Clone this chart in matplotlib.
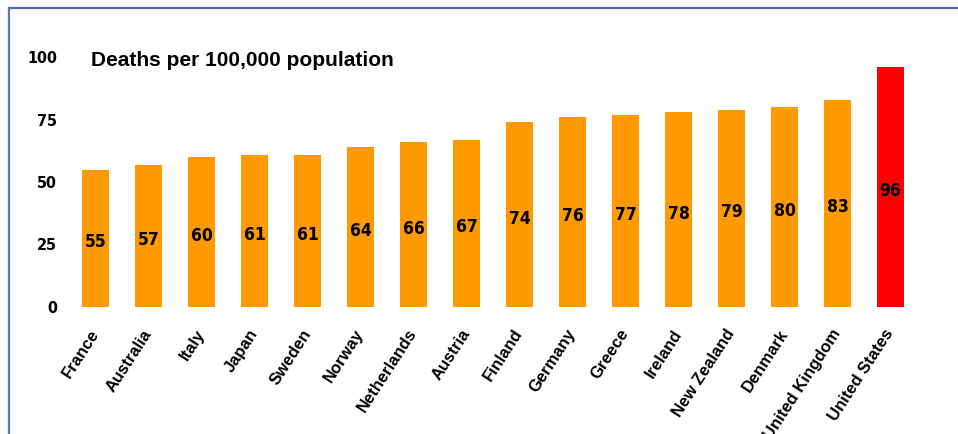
import matplotlib
matplotlib.use("Agg")
import matplotlib.pyplot as plt
from matplotlib.lines import Line2D

countries = ["France", "Australia", "Italy", "Japan", "Sweden", "Norway",
             "Netherlands", "Austria", "Finland", "Germany", "Greece",
             "Ireland", "New Zealand", "Denmark", "United Kingdom",
             "United States"]
deaths = [55, 57, 60, 61, 61, 64, 66, 67, 74, 76, 77, 78, 79, 80, 83, 96]
yticks = [0, 25, 50, 75, 100]
title = "Deaths per 100,000 population"

regular = ["Liberation Sans", "DejaVu Sans"]
narrow_props = dict(family=["DejaVu Sans"], stretch="condensed",
                    weight="bold")

W, H = 958, 434
fig = plt.figure(figsize=(W / 100, H / 100), dpi=100)

# plot area in pixel terms
left_px, right_px, top_px, bottom_px = 69, 917, 57, 307
ax = fig.add_axes([left_px / W, 1 - bottom_px / H,
                   (right_px - left_px) / W, (bottom_px - top_px) / H])

colors = ["#FF9900"] * (len(deaths) - 1) + ["#FF0000"]
x = list(range(len(countries)))
ax.bar(x, deaths, width=0.51, color=colors, zorder=2)

# value labels sit at mid-height of each bar
for xi, v in zip(x, deaths):
    ax.annotate(str(v), xy=(xi, v / 2), xytext=(0, -3),
                textcoords="offset points", ha="center", va="center",
                fontsize=12.5, color="black", **narrow_props)

ax.set_xlim(-0.5, len(countries) - 0.5)
ax.set_ylim(0, 100)
ax.set_yticks(yticks)
ax.set_yticklabels([str(t) for t in yticks], fontsize=11.5, **narrow_props)
ax.set_xticks(x)
ax.set_xticklabels(countries, rotation=57, ha="right", va="center",
                   rotation_mode="anchor", fontsize=12, fontweight="bold",
                   family=regular)
ax.tick_params(axis="both", length=0)
ax.tick_params(axis="y", pad=8.5)
ax.tick_params(axis="x", pad=17)
for s in ax.spines.values():
    s.set_visible(False)

fig.text(91 / W, 1 - 60 / H, title, ha="left", va="center", fontsize=15,
         fontweight="bold", family=regular)

# frame lines along top and left edges
fig.add_artist(Line2D([8.5 / W, 1], [1 - 8 / H, 1 - 8 / H], color="#4A6BAA",
                      linewidth=1.6, transform=fig.transFigure))
fig.add_artist(Line2D([8.5 / W, 8.5 / W], [0, 1 - 8 / H], color="#5B78B2",
                      linewidth=1.6, transform=fig.transFigure))

fig.savefig("out.png", dpi=100)
